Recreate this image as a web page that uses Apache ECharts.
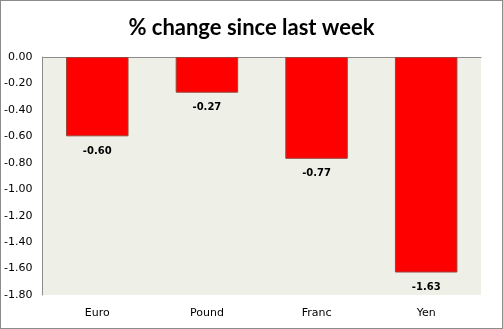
<!DOCTYPE html>
<html>
<head>
<meta charset="utf-8">
<script src="https://cdn.jsdelivr.net/npm/echarts@6/dist/echarts.min.js"></script>
<style>
  html, body { margin: 0; padding: 0; background: #fff; }
  #chart { width: 501px; height: 327px; border: 1px solid #8c8c8c; }
</style>
</head>
<body>
<div id="chart"></div>
<script>
// Weekly currency moves
const categories = ['Euro', 'Pound', 'Franc', 'Yen'];
const changes = [-0.60, -0.27, -0.77, -1.63];
const axisMin = -1.8;
const axisMax = 0;
const axisStep = 0.2;

const chart = echarts.init(document.getElementById('chart'), null, { renderer: 'canvas' });

chart.setOption({
  animation: false,
  title: {
    text: '% change since last week',
    left: 'center',
    top: 11,
    textStyle: {
      fontFamily: 'Lato',
      fontWeight: 'bold',
      fontSize: 22,
      color: '#000'
    }
  },
  grid: {
    left: 41,
    top: 56,
    width: 439,
    height: 238,
    show: true,
    backgroundColor: '#eef0e7',
    borderWidth: 0
  },
  xAxis: [
    {
      // axis line along the zero level
      type: 'category',
      data: categories,
      position: 'top',
      axisLine: { show: true, onZero: false, lineStyle: { color: '#8c8c8c', width: 1 } },
      axisTick: { show: false },
      axisLabel: { show: false }
    },
    {
      // category names below the plot
      type: 'category',
      data: categories,
      position: 'bottom',
      axisLine: { show: false, onZero: false },
      axisTick: { show: false },
      axisLabel: {
        fontFamily: 'DejaVu Sans',
        fontSize: 11,
        color: '#000',
        margin: 13
      }
    }
  ],
  yAxis: {
    type: 'value',
    min: axisMin,
    max: axisMax,
    interval: axisStep,
    axisLine: { show: true, lineStyle: { color: '#8c8c8c', width: 1 } },
    axisTick: { show: false },
    splitLine: { show: false },
    axisLabel: {
      fontFamily: 'DejaVu Sans',
      fontSize: 11,
      color: '#000',
      margin: 10,
      formatter: v => v.toFixed(2)
    }
  },
  series: [
    {
      type: 'bar',
      xAxisIndex: 0,
      data: changes,
      barWidth: '57%',
      itemStyle: {
        color: '#ff0000',
        borderColor: '#96463a',
        borderWidth: 1
      },
      label: {
        show: true,
        position: 'bottom',
        distance: 10,
        fontFamily: 'DejaVu Sans',
        fontWeight: 'bold',
        fontSize: 10,
        color: '#000',
        formatter: p => p.value.toFixed(2)
      }
    }
  ]
});
</script>
</body>
</html>
